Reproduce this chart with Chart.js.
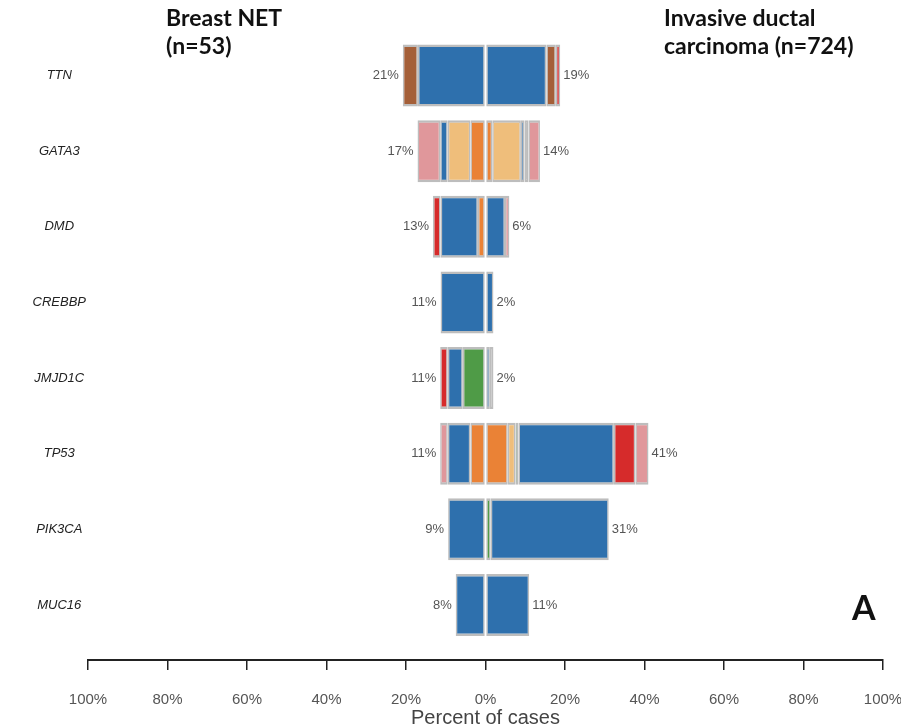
<!DOCTYPE html>
<html>
<head>
<meta charset="utf-8">
<script src="https://cdn.jsdelivr.net/npm/chart.js@4.4.1/dist/chart.umd.min.js"></script>
<style>
  body { margin: 0; background: #fff; }
  #wrap { position: relative; width: 901px; height: 728px; }
  .title { position: absolute; font-family: Lato, 'Open Sans', sans-serif; font-weight: bold; font-size: 23px; line-height: 28px; color: #111; }
</style>
</head>
<body>
<div id="wrap">
  <canvas id="c"></canvas>
  <div class="title" style="left:166px;top:3px;">Breast NET<br>(n=53)</div>
  <div class="title" style="left:664px;top:3px;">Invasive ductal<br>carcinoma (n=724)</div>
  <div class="title" style="left:852px;top:587px;font-size:34px;line-height:40px;">A</div>
</div>
<script>
const genes = ['TTN', 'GATA3', 'DMD', 'CREBBP', 'JMJD1C', 'TP53', 'PIK3CA', 'MUC16']
const netTotals = [21, 17, 13, 11, 11, 11, 9, 8]
const idcTotals = [19, 14, 6, 2, 2, 41, 31, 11]
const xTicks = [-100, -80, -60, -40, -20, 0, 20, 40, 60, 80, 100]

// segments listed from the centre outwards
const netValues = [
    [17.0, 3.8],
    [3.8, 5.7, 1.9, 5.7],
    [1.9, 9.4, 1.9],
    [11.3],
    [5.7, 3.8, 1.9],
    [3.8, 5.7, 1.9],
    [9.4],
    [7.5]
]
const netTypes = [
    ['missense', 'nonsense'],
    ['inframe_del', 'inframe_ins', 'missense', 'fs_ins'],
    ['inframe_del', 'missense', 'fs_del'],
    ['missense'],
    ['splice', 'missense', 'fs_del'],
    ['inframe_del', 'missense', 'fs_ins'],
    ['missense'],
    ['missense']
]
const idcValues = [
    [15.3, 2.4, 1.1],
    [1.7, 7.2, 0.9, 1.0, 2.9],
    [4.9, 1.1],
    [2.0],
    [1.1, 0.9],
    [5.6, 1.9, 0.8, 24.0, 5.4, 3.3],
    [1.3, 29.7],
    [11.0]
]
const idcTypes = [
    ['missense', 'nonsense', 'fs_del'],
    ['inframe_del', 'inframe_ins', 'missense', 'other', 'fs_ins'],
    ['missense', 'fs_ins'],
    ['missense'],
    ['missense', 'other'],
    ['inframe_del', 'inframe_ins', 'splice', 'missense', 'fs_del', 'fs_ins'],
    ['splice', 'missense'],
    ['missense']
]

const COLORS = {
    missense: '#2e70ad',
    nonsense: '#a45f38',
    fs_del: '#d62b2b',
    fs_ins: '#e0979b',
    inframe_del: '#ea8236',
    inframe_ins: '#efbe7b',
    splice: '#4f9b47',
    other: '#bebebe'
}

const sum = arr => arr.reduce((a, b) => a + b, 0)

const buildSide = (values, types, sign) => {
    const slots = Math.max(...values.map(v => v.length))
    const sets = []
    for (let k = 0; k < slots; k++) {
        const pts = [], cols = []
        values.forEach((v, i) => {
            if (v[k] !== undefined) {
                pts.push({ x: sign * v[k], y: i })
                cols.push(COLORS[types[i][k]])
            }
        })
        sets.push({
            data: pts,
            backgroundColor: cols,
            borderColor: '#bdbdbd',
            borderWidth: { top: 2.5, bottom: 2.5, left: 1.5, right: 1.5 },
            borderSkipped: false,
            inflateAmount: 0,
            barThickness: 62,
            stack: 'all'
        })
    }
    return sets
}

const pctLabels = {
    id: 'pctLabels',
    afterDatasetsDraw(chart) {
        const { ctx, scales: { x, y } } = chart
        ctx.save()
        ctx.font = '13px "Liberation Sans", Arial, sans-serif'
        ctx.fillStyle = '#555'
        ctx.textBaseline = 'middle'
        genes.forEach((g, i) => {
            const py = y.getPixelForValue(i)
            ctx.textAlign = 'right'
            ctx.fillText(netTotals[i] + '%', x.getPixelForValue(-sum(netValues[i])) - 4, py)
            ctx.textAlign = 'left'
            ctx.fillText(idcTotals[i] + '%', x.getPixelForValue(sum(idcValues[i])) + 3, py)
        })
        ctx.restore()
    }
}

new Chart(document.getElementById('c'), {
    type: 'bar',
    data: { datasets: [...buildSide(netValues, netTypes, -1), ...buildSide(idcValues, idcTypes, 1)] },
    options: {
        indexAxis: 'y',
        responsive: true,
        maintainAspectRatio: false,
        animation: false,
        layout: { padding: { top: 10, right: 18, bottom: 0, left: 0 } },
        plugins: { legend: { display: false }, tooltip: { enabled: false } },
        scales: {
            x: {
                type: 'linear',
                stacked: true,
                min: -100,
                max: 100,
                afterBuildTicks: s => { s.ticks = xTicks.map(v => ({ value: v })) },
                afterFit: s => { s.height = 68; s.paddingLeft = 0; s.paddingRight = 0 },
                ticks: {
                    callback: v => Math.abs(v) + '%',
                    color: '#555',
                    font: { family: '"Liberation Sans", Arial, sans-serif', size: 15, lineHeight: 1 },
                    padding: 22,
                    maxRotation: 0
                },
                grid: { drawOnChartArea: false, drawTicks: true, tickLength: 10, color: '#222', lineWidth: 1.5 },
                border: { display: true, color: '#222', width: 2 },
                title: {
                    display: true,
                    text: 'Percent of cases',
                    color: '#444',
                    font: { family: '"Liberation Sans", Arial, sans-serif', size: 20, lineHeight: 1 },
                    padding: { top: 1, bottom: 0 }
                }
            },
            y: {
                type: 'linear',
                offset: false,
                stacked: true,
                reverse: true,
                min: -0.866,
                max: 7.727,
                afterBuildTicks: s => { s.ticks = genes.map((g, i) => ({ value: i })) },
                afterFit: s => { s.width = 88; s.paddingTop = 0; s.paddingBottom = 0 },
                ticks: {
                    callback: v => genes[v],
                    color: '#222',
                    crossAlign: 'center',
                    padding: 2,
                    font: { family: '"Liberation Sans", Arial, sans-serif', size: 13, style: 'italic' }
                },
                grid: { display: false, drawTicks: false },
                border: { display: false }
            }
        }
    },
    plugins: [pctLabels]
})
</script>
</body>
</html>
